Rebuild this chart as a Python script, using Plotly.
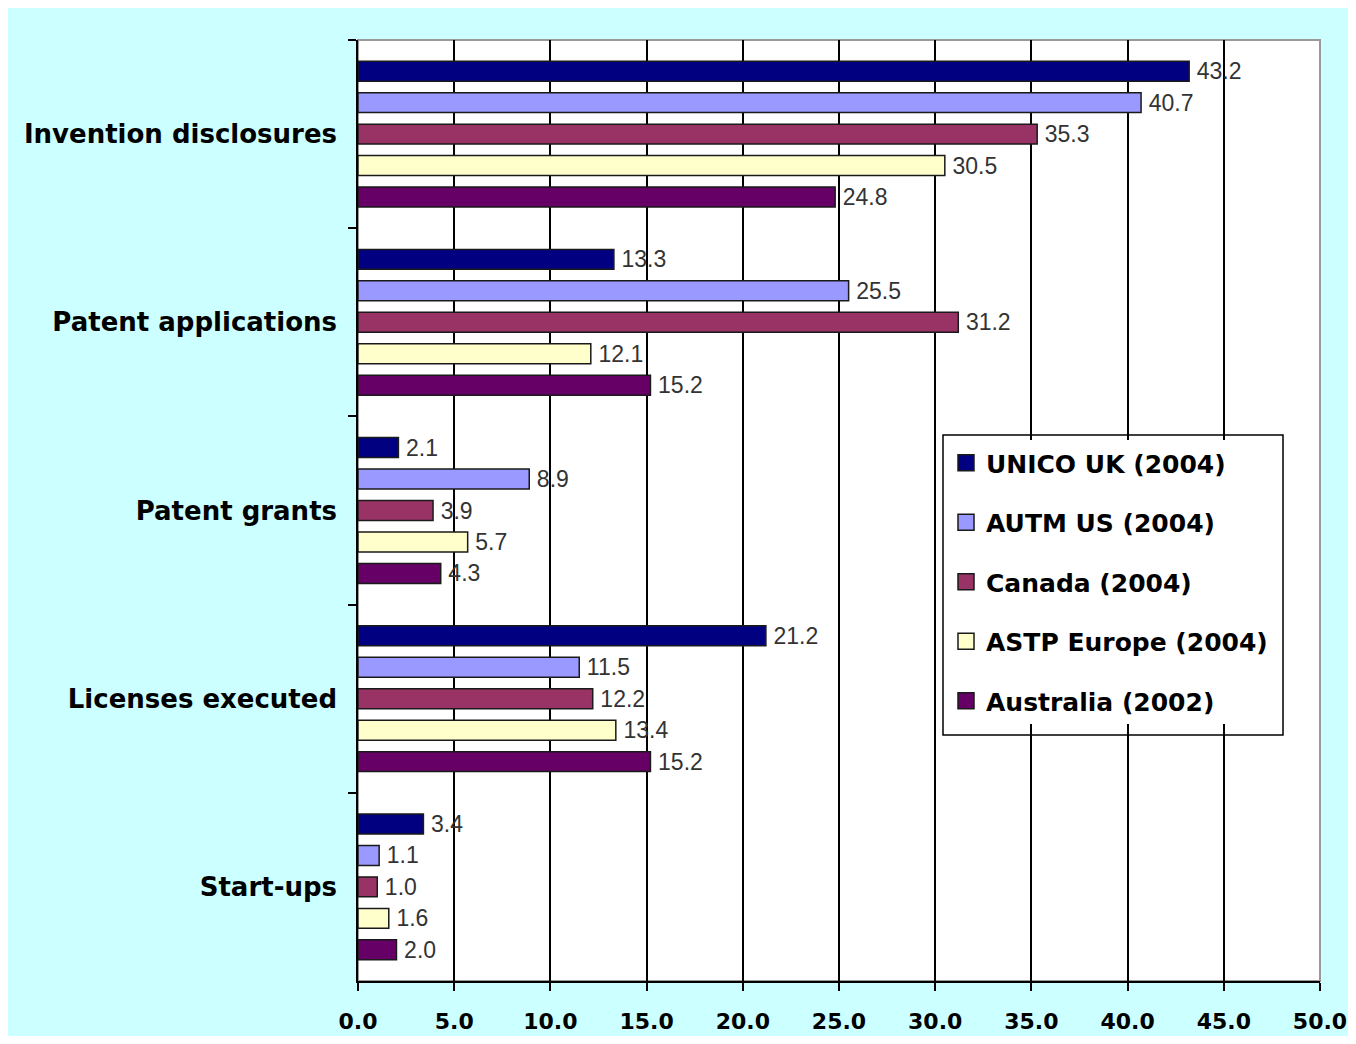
import plotly.graph_objects as go

categories = ["Invention disclosures", "Patent applications", "Patent grants",
              "Licenses executed", "Start-ups"]
series_names = ["UNICO UK (2004)", "AUTM US (2004)", "Canada (2004)",
                "ASTP Europe (2004)", "Australia (2002)"]
unico_uk = [43.2, 13.3, 2.1, 21.2, 3.4]
autm_us = [40.7, 25.5, 8.9, 11.5, 1.1]
canada = [35.3, 31.2, 3.9, 12.2, 1.0]
astp_europe = [30.5, 12.1, 5.7, 13.4, 1.6]
australia = [24.8, 15.2, 4.3, 15.2, 2.0]
x_ticks = [0, 5, 10, 15, 20, 25, 30, 35, 40, 45, 50]

series_values = [unico_uk, autm_us, canada, astp_europe, australia]
colors = ["#000080", "#9999FF", "#993366", "#FFFFCC", "#660066"]

# page has an 8px body margin; figure coords = page coords - 8
OFF = 8
W, H = 1340, 1028
L, R, T, B = 350, 28, 32, 55
pw, ph = W - L - R, H - T - B

fig = go.Figure()
for i, (name, vals, col) in enumerate(zip(series_names, series_values, colors)):
    fig.add_trace(go.Bar(
        y=categories, x=vals, name=name, orientation="h",
        marker=dict(color=col, line=dict(color="#1a1a1a", width=1.5)),
        texttemplate="\u2009%{x:.1f}", textposition="outside", cliponaxis=False,
        constraintext="none",
        textfont=dict(family="Liberation Sans, Arial, sans-serif", size=23, color="#333333"),
        legendgroup=f"g{i}", showlegend=False,
    ))
# legend entries with larger square swatches
for i, (name, col) in enumerate(zip(series_names, colors)):
    fig.add_trace(go.Scatter(
        x=[None], y=[None], mode="markers", name=name,
        marker=dict(symbol="square", size=16, color=col, line=dict(color="#1a1a1a", width=1.5)),
        legendgroup=f"g{i}", showlegend=True, hoverinfo="skip",
    ))

def px2x(px):
    return (px - OFF - L) / pw

def py2y(py):
    return (H - B - (py - OFF)) / ph

shapes = [
    dict(type="rect", xref="paper", yref="paper", layer="below",
         x0=0, x1=1, y0=0, y1=1,
         fillcolor="#FFFFFF", line=dict(color="#999999", width=2)),
    dict(type="rect", xref="paper", yref="paper", layer="above",
         x0=px2x(943), x1=px2x(1283), y0=py2y(735), y1=py2y(435),
         fillcolor="rgba(0,0,0,0)", line=dict(color="#000000", width=1.5)),
]

fig.update_layout(
    width=W, height=H,
    margin=dict(l=L, r=R, t=T, b=B, pad=0, autoexpand=False),
    paper_bgcolor="#CCFFFF", plot_bgcolor="rgba(0,0,0,0)",
    barmode="group", bargap=0.164, bargroupgap=0.367,
    shapes=shapes,
    showlegend=True,
    legend=dict(
        x=px2x(946), y=py2y(440), xanchor="left", yanchor="top",
        bgcolor="#FFFFFF", borderwidth=0, itemsizing="trace",
        font=dict(family="DejaVu Sans, Verdana, sans-serif", size=25, color="#000000", weight="bold"),
        tracegroupgap=24, itemwidth=30,
    ),
    xaxis=dict(
        range=[0, 50], tickvals=x_ticks, tickformat=".1f", automargin=False,
        showgrid=True, gridcolor="#000000", gridwidth=1.5,
        showline=True, linecolor="#000000", linewidth=1.5,
        ticks="outside", ticklen=8, tickwidth=1.5, tickcolor="#000000",
        tickfont=dict(family="DejaVu Sans, Verdana, sans-serif", size=22, color="#000000", weight="bold"),
        ticklabelstandoff=12, zeroline=False,
    ),
    yaxis=dict(
        autorange="reversed", type="category", automargin=False,
        categoryorder="array", categoryarray=categories,
        showgrid=False, showline=True, linecolor="#000000", linewidth=1.5,
        ticks="outside", ticklen=8, tickwidth=1.5, tickcolor="#000000",
        tickson="boundaries",
        tickfont=dict(family="DejaVu Sans, Verdana, sans-serif", size=26, color="#000000", weight="bold"),
        ticklabelstandoff=14,
    ),
)

fig.write_html("out.html")
